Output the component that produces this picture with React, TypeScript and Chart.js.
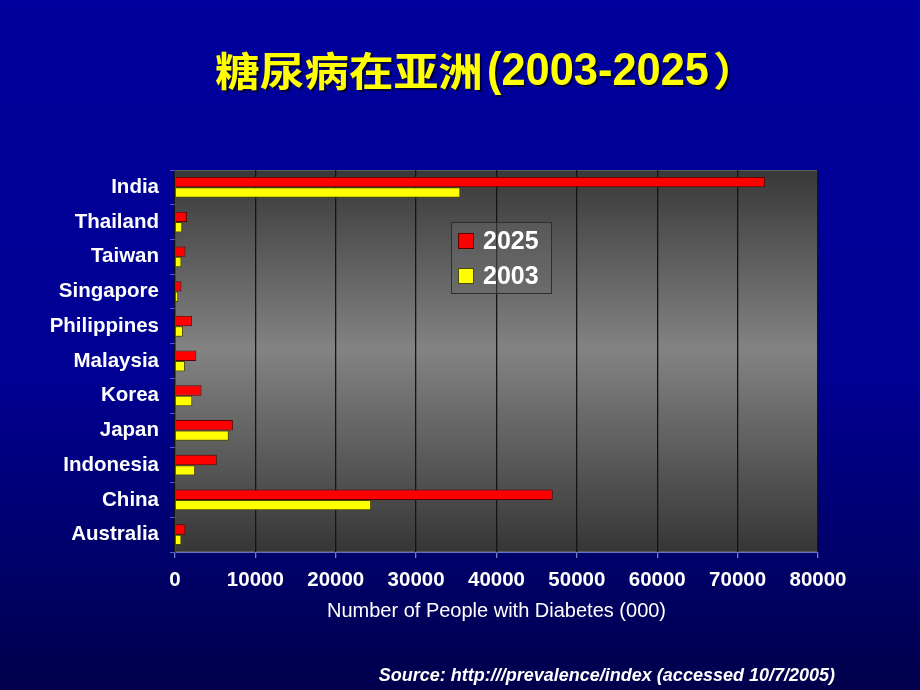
import React, { useEffect, useRef } from 'react';
import { Chart, registerables } from 'chart.js';
Chart.register(...registerables);

const W = 920;
const H = 690;

const TITLE_CJK = '糖尿病在亚洲';
const TITLE_LATIN = '(2003-2025';
const TITLE_CLOSE = '）';
const X_TITLE = 'Number of People with Diabetes (000)';
const SOURCE = 'Source: http:///prevalence/index (accessed 10/7/2005)';

const categories = ['India', 'Thailand', 'Taiwan', 'Singapore', 'Philippines', 'Malaysia', 'Korea', 'Japan', 'Indonesia', 'China', 'Australia'];
const seriesLabels = ['2025', '2003'];
const values2025 = [73400, 1500, 1300, 800, 2100, 2650, 3300, 7200, 5200, 47000, 1300];
const values2003 = [35500, 900, 800, 400, 1000, 1250, 2150, 6700, 2500, 24400, 800];
const xMin = 0;
const xMax = 80000;
const xStep = 10000;

const SANS = '"Liberation Sans", Arial, "Noto Sans CJK SC", sans-serif';
const CJK = '"Noto Sans CJK SC", "Liberation Sans", sans-serif';

function drawFit(ctx: CanvasRenderingContext2D, text: string, x: number, y: number, width: number) {
  const w = ctx.measureText(text).width;
  const sx = width / w;
  ctx.save();
  ctx.translate(x, y);
  ctx.scale(sx, 1);
  ctx.fillStyle = 'rgba(0,0,0,0.6)';
  ctx.fillText(text, 2, 2);
  ctx.fillStyle = '#ffff00';
  ctx.fillText(text, 0, 0);
  ctx.restore();
}

const decorPlugin = {
  id: 'decor',
  beforeDraw(chart: any) {
    const ctx = chart.ctx as CanvasRenderingContext2D;
    const { left, right, top, bottom } = chart.chartArea;
    ctx.save();
    const bg = ctx.createLinearGradient(0, 0, 0, H);
    bg.addColorStop(0, '#00009c');
    bg.addColorStop(0.55, '#000092');
    bg.addColorStop(1, '#00004c');
    ctx.fillStyle = bg;
    ctx.fillRect(0, 0, W, H);
    const pg = ctx.createLinearGradient(0, top, 0, bottom);
    pg.addColorStop(0, '#383838');
    pg.addColorStop(0.47, '#838383');
    pg.addColorStop(1, '#363636');
    ctx.fillStyle = pg;
    ctx.fillRect(left, top, right - left, bottom - top);
    ctx.strokeStyle = '#5a5a5a';
    ctx.lineWidth = 1;
    ctx.strokeRect(left + 0.5, top + 0.5, right - left - 1, bottom - top - 1);
    ctx.restore();
  },
  afterDraw(chart: any) {
    const ctx = chart.ctx as CanvasRenderingContext2D;
    const { left, right, bottom } = chart.chartArea;
    ctx.save();
    // Title, drawn in three runs
    ctx.textAlign = 'left';
    ctx.textBaseline = 'alphabetic';
    ctx.font = `bold 40px ${CJK}`;
    drawFit(ctx, TITLE_CJK, 215, 86, 268);
    ctx.font = `bold 46px ${SANS}`;
    drawFit(ctx, TITLE_LATIN, 487, 85, 222);
    ctx.font = `bold 40px ${CJK}`;
    drawFit(ctx, TITLE_CLOSE, 713, 86, 44);

    // X axis title
    ctx.font = `20px ${SANS}`;
    ctx.fillStyle = '#ffffff';
    ctx.textAlign = 'center';
    ctx.textBaseline = 'middle';
    ctx.fillText(X_TITLE, (left + right) / 2, bottom + 59);

    // Source
    ctx.font = `italic bold 18px ${SANS}`;
    ctx.textAlign = 'right';
    ctx.textBaseline = 'middle';
    ctx.fillText(SOURCE, 835, 676);

    // Legend
    const lx = 451, ly = 222, lw = 100, lh = 71;
    ctx.fillStyle = 'rgba(110,110,110,0.35)';
    ctx.fillRect(lx, ly, lw, lh);
    ctx.strokeStyle = '#2e2e2e';
    ctx.lineWidth = 1;
    ctx.strokeRect(lx + 0.5, ly + 0.5, lw, lh);
    chart.data.datasets.forEach((ds: any, i: number) => {
      const cy = ly + 19 + i * 35;
      ctx.fillStyle = ds.backgroundColor;
      ctx.fillRect(458, cy - 8, 16, 16);
      ctx.strokeStyle = ds.borderColor;
      ctx.strokeRect(458.5, cy - 7.5, 15, 15);
      ctx.fillStyle = '#ffffff';
      ctx.font = `bold 25px ${SANS}`;
      ctx.textAlign = 'left';
      ctx.textBaseline = 'middle';
      ctx.fillText(ds.label, 483, cy + 1);
    });
    ctx.restore();
  },
};

export default function App() {
  const ref = useRef<HTMLCanvasElement>(null);
  useEffect(() => {
    if (!ref.current) return;
    const chart = new Chart(ref.current, {
      type: 'bar',
      data: {
        labels: categories,
        datasets: [
          {
            label: seriesLabels[0],
            data: values2025,
            backgroundColor: '#ff0000',
            borderColor: '#5c0000',
            borderWidth: 1,
            categoryPercentage: 0.6,
            barPercentage: 1.0,
          },
          {
            label: seriesLabels[1],
            data: values2003,
            backgroundColor: '#ffff00',
            borderColor: '#4a4a00',
            borderWidth: 1,
            categoryPercentage: 0.6,
            barPercentage: 1.0,
          },
        ],
      },
      options: {
        indexAxis: 'y',
        responsive: false,
        animation: false,
        devicePixelRatio: 1,
        layout: { padding: { top: 170, right: 102, left: 0, bottom: 0 } },
        plugins: {
          legend: { display: false },
          title: { display: false },
          tooltip: { enabled: false },
        },
        scales: {
          x: {
            type: 'linear',
            min: xMin,
            max: xMax,
            afterFit: (s: any) => { s.height = 138; },
            ticks: {
              stepSize: xStep,
              color: '#ffffff',
              font: { family: SANS, size: 20.5, weight: 'bold' },
              padding: 10,
              maxRotation: 0,
              callback: (v: any) => String(v),
            },
            grid: {
              color: '#141414',
              lineWidth: 1.3,
              tickColor: '#6d7dc8',
              tickLength: 6,
            },
            border: { color: '#6272c0', width: 1 },
          },
          y: {
            type: 'category',
            afterFit: (s: any) => { s.width = 175; },
            ticks: {
              color: '#ffffff',
              font: { family: SANS, size: 20.5, weight: 'bold' },
              padding: 11,
            },
            grid: {
              display: true,
              drawOnChartArea: false,
              drawTicks: true,
              tickLength: 5,
              tickColor: '#4a5ac8',
              offset: true,
            },
            border: { color: '#2c3cb0', width: 1 },
          },
        },
      },
      plugins: [decorPlugin],
    } as any);
    return () => chart.destroy();
  }, []);
  return (
    <div style={{ position: 'fixed', left: 0, top: 0, width: W, height: H }}>
      <canvas ref={ref} width={W} height={H} style={{ width: W, height: H, display: 'block' }} />
    </div>
  );
}
